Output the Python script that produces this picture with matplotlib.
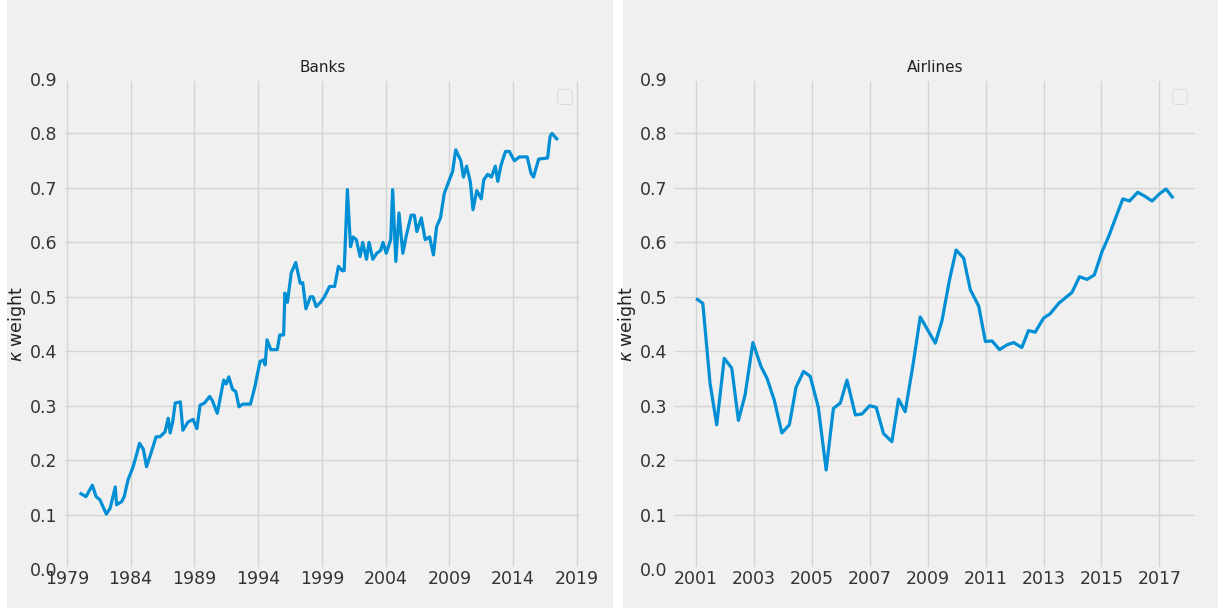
import numpy as np
import matplotlib
matplotlib.use('Agg')
from matplotlib import pyplot as plt
from matplotlib.patches import Rectangle

# values (year as decimal, kappa weight)
banks_t = [1980.0, 1980.5, 1981.0, 1981.3, 1981.6, 1982.1, 1982.4, 1982.8, 1982.9, 1983.3,
           1983.5, 1983.8, 1984.2, 1984.5, 1984.7, 1985.0, 1985.25, 1985.6, 1986.0, 1986.3,
           1986.7, 1986.95, 1987.1, 1987.3, 1987.5, 1987.9, 1988.1, 1988.5, 1988.9, 1989.2,
           1989.45, 1989.8, 1990.2, 1990.4, 1990.8, 1991.3, 1991.5, 1991.7, 1992.0, 1992.25,
           1992.5, 1992.8, 1993.4, 1993.75, 1993.9, 1994.15, 1994.4, 1994.55, 1994.7, 1995.0,
           1995.5, 1995.7, 1996.0, 1996.1, 1996.3, 1996.6, 1996.95, 1997.3, 1997.5, 1997.75,
           1998.1, 1998.3, 1998.55, 1998.9, 1999.2, 1999.6, 2000.0, 2000.3, 2000.6, 2000.75,
           2001.0, 2001.25, 2001.45, 2001.7, 2002.0, 2002.2, 2002.5, 2002.7, 2003.0, 2003.3,
           2003.6, 2003.8, 2004.05, 2004.4, 2004.55, 2004.8, 2005.05, 2005.35, 2005.6, 2006.0,
           2006.25, 2006.45, 2006.8, 2007.1, 2007.45, 2007.75, 2008.0, 2008.3, 2008.6, 2009.0,
           2009.25, 2009.5, 2009.9, 2010.1, 2010.35, 2010.65, 2010.85, 2011.15, 2011.5, 2011.7,
           2012.0, 2012.3, 2012.6, 2012.8, 2013.05, 2013.4, 2013.7, 2014.1, 2014.5, 2015.1,
           2015.4, 2015.6, 2016.0, 2016.7, 2016.9, 2017.05, 2017.5]
banks_k = [0.140, 0.133, 0.154, 0.133, 0.127, 0.101, 0.112, 0.151, 0.118, 0.124,
           0.133, 0.164, 0.188, 0.213, 0.231, 0.220, 0.188, 0.213, 0.243, 0.243,
           0.252, 0.277, 0.250, 0.270, 0.305, 0.307, 0.255, 0.270, 0.275, 0.258,
           0.301, 0.305, 0.317, 0.310, 0.286, 0.347, 0.340, 0.353, 0.330, 0.326,
           0.298, 0.303, 0.303, 0.335, 0.353, 0.381, 0.384, 0.375, 0.421, 0.403,
           0.403, 0.430, 0.430, 0.507, 0.490, 0.544, 0.563, 0.525, 0.526, 0.478,
           0.500, 0.500, 0.482, 0.490, 0.500, 0.519, 0.519, 0.556, 0.548, 0.548,
           0.697, 0.592, 0.610, 0.605, 0.574, 0.600, 0.569, 0.600, 0.569, 0.580,
           0.585, 0.600, 0.580, 0.605, 0.697, 0.565, 0.654, 0.580, 0.610, 0.650,
           0.650, 0.620, 0.645, 0.605, 0.610, 0.577, 0.629, 0.645, 0.690, 0.715,
           0.730, 0.770, 0.750, 0.720, 0.740, 0.710, 0.660, 0.695, 0.680, 0.715,
           0.725, 0.720, 0.740, 0.712, 0.742, 0.767, 0.767, 0.750, 0.757, 0.757,
           0.727, 0.720, 0.753, 0.755, 0.795, 0.800, 0.788]

airlines_t = [2001.0, 2001.23, 2001.48, 2001.71, 2001.97, 2002.23, 2002.46, 2002.69, 2002.96, 2003.24,
              2003.45, 2003.7, 2003.96, 2004.22, 2004.45, 2004.71, 2004.94, 2005.22, 2005.49, 2005.74,
              2005.98, 2006.21, 2006.5, 2006.73, 2006.99, 2007.22, 2007.47, 2007.76, 2007.99, 2008.22,
              2008.49, 2008.74, 2009.26, 2009.49, 2009.75, 2009.98, 2010.24, 2010.47, 2010.76, 2010.99,
              2011.22, 2011.48, 2011.74, 2011.97, 2012.25, 2012.48, 2012.71, 2013.0, 2013.23, 2013.52,
              2013.75, 2013.98, 2014.24, 2014.5, 2014.75, 2015.02, 2015.25, 2015.51, 2015.74, 2015.97,
              2016.25, 2016.49, 2016.75, 2017.0, 2017.23, 2017.48]
airlines_k = [0.497, 0.488, 0.341, 0.265, 0.387, 0.369, 0.273, 0.320, 0.416, 0.372,
              0.350, 0.310, 0.250, 0.265, 0.334, 0.363, 0.354, 0.297, 0.182, 0.295,
              0.305, 0.347, 0.283, 0.285, 0.300, 0.297, 0.249, 0.234, 0.312, 0.289,
              0.375, 0.463, 0.415, 0.456, 0.531, 0.586, 0.571, 0.513, 0.483, 0.418,
              0.419, 0.403, 0.412, 0.416, 0.407, 0.438, 0.435, 0.461, 0.469, 0.488,
              0.498, 0.508, 0.537, 0.532, 0.540, 0.583, 0.611, 0.648, 0.680, 0.676,
              0.692, 0.685, 0.676, 0.689, 0.698, 0.681]

banks_ticks = list(range(1979, 2020, 5))
airlines_ticks = list(range(2001, 2018, 2))
y_ticks = [0.0, 0.1, 0.2, 0.3, 0.4, 0.5, 0.6, 0.7, 0.8, 0.9]

plt.style.use('fivethirtyeight')
plt.rcParams['font.family'] = ['DejaVu Sans']

fig = plt.figure(figsize=(12.18, 6.08), dpi=100, facecolor='white')

# two grey panels with a white gap between them, kept behind the axes
fig.patches.append(Rectangle((7 / 1218, 0), (613 - 7) / 1218, 1, transform=fig.transFigure,
                             facecolor='#f0f0f0', edgecolor='none', zorder=-5))
fig.patches.append(Rectangle((623 / 1218, 0), (1218 - 623) / 1218, 1, transform=fig.transFigure,
                             facecolor='#f0f0f0', edgecolor='none', zorder=-5))

ax1 = fig.add_axes([63 / 1218, 0.064, 519 / 1218, 0.806])
ax2 = fig.add_axes([673 / 1218, 0.064, 524 / 1218, 0.806])

panels = [(ax1, banks_t, banks_k, 'Banks', banks_ticks, (1978.7, 2019.4)),
          (ax2, airlines_t, airlines_k, 'Airlines', airlines_ticks, (2000.2, 2018.3))]

for ax, t, k, name, ticks, xl in panels:
    ax.set_facecolor('#f0f0f0')
    ax.plot(t, k, color='#008fd5', lw=2.3)
    ax.set_xlim(xl)
    ax.set_ylim(0, 0.9)
    ax.set_xticks(ticks)
    ax.set_xticklabels([str(v) for v in ticks])
    ax.set_yticks(y_ticks)
    ax.set_yticklabels(['%.1f' % v for v in y_ticks])
    ax.tick_params(axis='both', labelsize=12.5, colors='#333333', length=0)
    ax.tick_params(axis='y', pad=4)
    ax.tick_params(axis='x', pad=1)
    ax.grid(True, color='#d4d4d4', lw=1)
    ax.set_title(name, fontsize=11, pad=5, color='#222222')
    ax.set_ylabel(r'$\kappa$ weight', fontsize=12.5, color='#222222', labelpad=1)
    ax.legend(handles=[], loc='upper right')

fig.savefig('out.png', dpi=100, facecolor='white')
